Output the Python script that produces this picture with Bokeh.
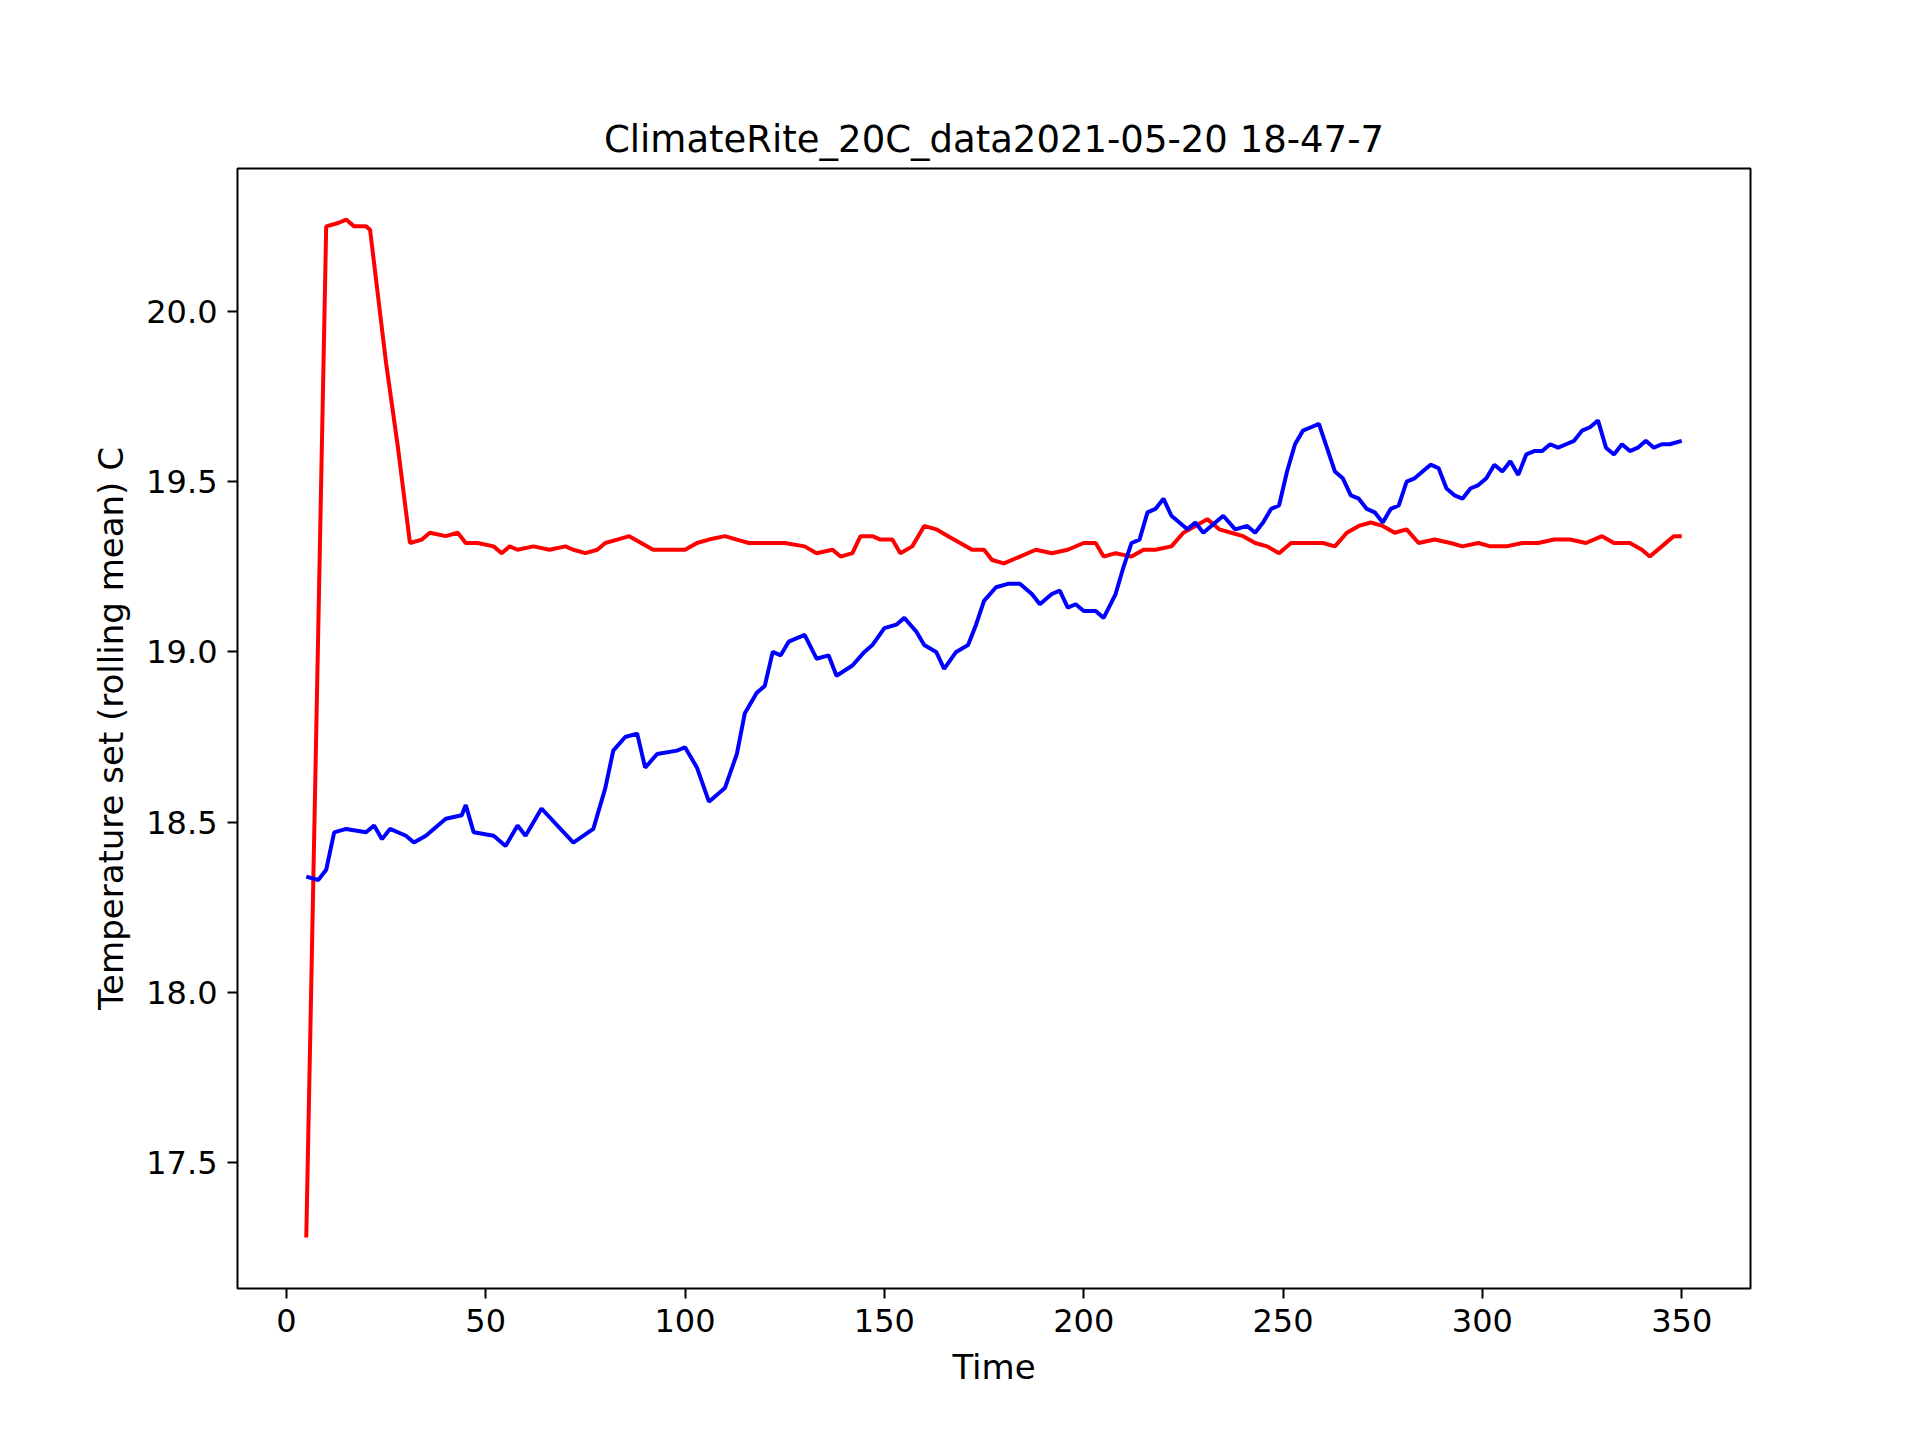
from bokeh.plotting import figure
from bokeh.models import Range1d, FixedTicker, PrintfTickFormatter
from bokeh.embed import file_html
from bokeh.resources import INLINE

title_text = "ClimateRite_20C_data2021-05-20 18-47-7"
x_ticks = [0, 50, 100, 150, 200, 250, 300, 350]
y_ticks = [17.5, 18.0, 18.5, 19.0, 19.5, 20.0]

red_x = [5, 10, 13, 15, 17, 20, 21, 25, 28, 31, 34, 36, 40, 43, 45, 48, 52, 54, 56, 58,
         62, 66, 70, 72, 75, 78, 80, 83, 86, 89, 92, 96, 100, 103, 106, 110, 113, 116,
         120, 125, 130, 133, 137, 139, 142, 144, 147, 149, 152, 154, 157, 160, 163, 166,
         169, 172, 175, 177, 180, 184, 188, 192, 196, 200, 203, 205, 208, 212, 215, 218,
         222, 225, 228, 231, 234, 237, 240, 243, 246, 249, 252, 256, 260, 263, 266, 269,
         272, 275, 278, 281, 284, 288, 292, 295, 299, 302, 306, 310, 314, 318, 322, 326,
         330, 333, 337, 340, 342, 345, 348, 350]
red_y = [17.28, 20.25, 20.26, 20.27, 20.25, 20.25, 20.24, 19.85, 19.60, 19.32, 19.33, 19.35,
         19.34, 19.35, 19.32, 19.32, 19.31, 19.29, 19.31, 19.30, 19.31, 19.30, 19.31, 19.30,
         19.29, 19.30, 19.32, 19.33, 19.34, 19.32, 19.30, 19.30, 19.30, 19.32, 19.33, 19.34,
         19.33, 19.32, 19.32, 19.32, 19.31, 19.29, 19.30, 19.28, 19.29, 19.34, 19.34, 19.33,
         19.33, 19.29, 19.31, 19.37, 19.36, 19.34, 19.32, 19.30, 19.30, 19.27, 19.26, 19.28,
         19.30, 19.29, 19.30, 19.32, 19.32, 19.28, 19.29, 19.28, 19.30, 19.30, 19.31, 19.35,
         19.37, 19.39, 19.36, 19.35, 19.34, 19.32, 19.31, 19.29, 19.32, 19.32, 19.32, 19.31,
         19.35, 19.37, 19.38, 19.37, 19.35, 19.36, 19.32, 19.33, 19.32, 19.31, 19.32, 19.31,
         19.31, 19.32, 19.32, 19.33, 19.33, 19.32, 19.34, 19.32, 19.32, 19.30, 19.28, 19.31,
         19.34, 19.34]

blue_x = [5, 8, 10, 12, 15, 20, 22, 24, 26, 30, 32, 35, 40, 44, 45, 47, 52, 55, 58, 60, 64,
          68, 72, 77, 80, 82, 85, 88, 90, 93, 98, 100, 103, 106, 110, 113, 115, 118, 120,
          122, 124, 126, 130, 133, 136, 138, 142, 145, 147, 150, 153, 155, 158, 160, 163,
          165, 168, 171, 173, 175, 178, 181, 184, 187, 189, 192, 194, 196, 198, 200, 203,
          205, 208, 210, 212, 214, 216, 218, 220, 222, 224, 226, 228, 230, 232, 235, 238,
          241, 243, 245, 247, 249, 251, 253, 255, 257, 259, 261, 263, 265, 267, 269, 271,
          273, 275, 277, 279, 281, 283, 285, 287, 289, 291, 293, 295, 297, 299, 301, 303,
          305, 307, 309, 311, 313, 315, 317, 319, 321, 323, 325, 327, 329, 331, 333, 335,
          337, 339, 341, 343, 345, 347, 350]
blue_y = [18.34, 18.33, 18.36, 18.47, 18.48, 18.47, 18.49, 18.45, 18.48, 18.46, 18.44, 18.46,
          18.51, 18.52, 18.55, 18.47, 18.46, 18.43, 18.49, 18.46, 18.54, 18.49, 18.44, 18.48,
          18.60, 18.71, 18.75, 18.76, 18.66, 18.70, 18.71, 18.72, 18.66, 18.56, 18.60, 18.70,
          18.82, 18.88, 18.90, 19.00, 18.99, 19.03, 19.05, 18.98, 18.99, 18.93, 18.96, 19.00,
          19.02, 19.07, 19.08, 19.10, 19.06, 19.02, 19.00, 18.95, 19.00, 19.02, 19.08, 19.15,
          19.19, 19.20, 19.20, 19.17, 19.14, 19.17, 19.18, 19.13, 19.14, 19.12, 19.12, 19.10,
          19.17, 19.25, 19.32, 19.33, 19.41, 19.42, 19.45, 19.40, 19.38, 19.36, 19.38, 19.35,
          19.37, 19.40, 19.36, 19.37, 19.35, 19.38, 19.42, 19.43, 19.53, 19.61, 19.65, 19.66,
          19.67, 19.60, 19.53, 19.51, 19.46, 19.45, 19.42, 19.41, 19.38, 19.42, 19.43, 19.50,
          19.51, 19.53, 19.55, 19.54, 19.48, 19.46, 19.45, 19.48, 19.49, 19.51, 19.55, 19.53,
          19.56, 19.52, 19.58, 19.59, 19.59, 19.61, 19.60, 19.61, 19.62, 19.65, 19.66, 19.68,
          19.60, 19.58, 19.61, 19.59, 19.60, 19.62, 19.60, 19.61, 19.61, 19.62]

font = "DejaVu Sans"

p = figure(width=1900, height=1420, output_backend="svg", toolbar_location=None,
           x_range=Range1d(-12.25, 367.25), y_range=Range1d(17.13, 20.42),
           min_border_left=237, min_border_right=150, min_border_top=168,
           min_border_bottom=132, title=title_text)
p.title.align = "center"
p.title.text_font = font
p.title.text_font_size = "37px"
p.title.text_font_style = "normal"
p.title.text_color = "black"
p.title.standoff = 16

p.line(red_x, red_y, line_color="red", line_width=4)
p.line(blue_x, blue_y, line_color="blue", line_width=4)

p.grid.visible = False
p.outline_line_color = "black"
p.outline_line_width = 2
p.background_fill_color = "white"
p.border_fill_color = "white"

p.xaxis.ticker = FixedTicker(ticks=x_ticks)
p.yaxis.ticker = FixedTicker(ticks=y_ticks)
p.yaxis.formatter = PrintfTickFormatter(format="%.1f")
p.xaxis.axis_label = "Time"
p.yaxis.axis_label = "Temperature set (rolling mean) C"
for ax in (p.xaxis, p.yaxis):
    ax.axis_line_color = None
    ax.major_tick_in = 0
    ax.major_tick_out = 10
    ax.major_tick_line_width = 2
    ax.major_tick_line_color = "black"
    ax.minor_tick_line_color = None
    ax.major_label_text_font = font
    ax.major_label_text_font_size = "32px"
    ax.major_label_text_color = "black"
    ax.axis_label_text_font = font
    ax.axis_label_text_font_size = "34px"
    ax.axis_label_text_font_style = "normal"
    ax.axis_label_text_color = "black"
    ax.major_label_standoff = 10
    ax.axis_label_standoff = 12

open("out.html", "w").write(file_html(p, INLINE))
